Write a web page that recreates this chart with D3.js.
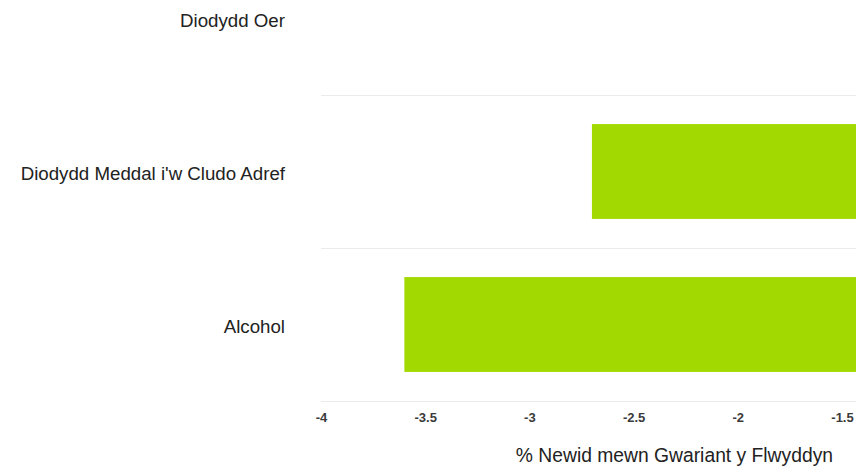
<!DOCTYPE html>
<html>
<head>
<meta charset="utf-8">
<script src="https://cdn.jsdelivr.net/npm/d3@7"></script>
<style>
  body { margin: 0; background: #fff; }
  svg { display: block; }
  svg text { font-family: "Liberation Sans", Arial, sans-serif; }
</style>
</head>
<body>
<div id="chart"></div>
<script>
const WIDTH = 856, HEIGHT = 466;
const MARGINS = {top: -58, bottom: 65, left: 321, right: 0};
const PLOT_W = WIDTH - MARGINS.left - MARGINS.right;
const PLOT_H = HEIGHT - MARGINS.top - MARGINS.bottom;

// data
const categories = ["Diodydd Oer", "Diodydd Meddal i'w Cludo Adref", "Alcohol"];
const values = [-0.8, -2.7, -3.6];
const ticks = [-4, -3.5, -3, -2.5, -2, -1.5];
const axisTitle = "% Newid mewn Gwariant y Flwyddyn";

const x = d3.scaleLinear()
    .domain([-4, -1.5])
    .range([0, 521]);

const y = d3.scaleBand()
    .domain(categories)
    .range([0, PLOT_H])
    .paddingInner(0.38)
    .paddingOuter(0.19);

const svg = d3.select('#chart')
    .append('svg')
    .attr('width', WIDTH)
    .attr('height', HEIGHT);

svg.append('defs').append('clipPath')
    .attr('id', 'plotClip')
    .append('rect')
    .attr('x', 0).attr('y', -MARGINS.top)
    .attr('width', PLOT_W).attr('height', PLOT_H);

const chart = svg.append('g')
    .attr('transform', `translate(${MARGINS.left}, ${MARGINS.top})`);

// grid lines between bands
const gap = (y.step() - y.bandwidth()) / 2;
chart.selectAll('.grid')
    .data(categories)
    .enter()
    .append('line')
    .attr('x1', 0)
    .attr('x2', PLOT_W)
    .attr('y1', d => Math.round(y(d) + y.bandwidth() + gap) + 0.5)
    .attr('y2', d => Math.round(y(d) + y.bandwidth() + gap) + 0.5)
    .attr('stroke', '#ebebeb')
    .attr('stroke-width', 1);

// bars grow from zero, which is off to the right
chart.append('g')
    .attr('clip-path', 'url(#plotClip)')
    .selectAll('.bar')
    .data(categories.map((c, i) => ({cat: c, value: values[i]})))
    .enter()
    .append('rect')
    .attr('x', d => x(Math.min(d.value, 0)))
    .attr('y', d => y(d.cat))
    .attr('width', d => Math.abs(x(d.value) - x(0)))
    .attr('height', y.bandwidth())
    .attr('fill', '#a2d900');

// category labels
chart.selectAll('.catLabel')
    .data(categories)
    .enter()
    .append('text')
    .attr('x', -36)
    .attr('y', d => y(d) + y.bandwidth() / 2 + 2)
    .attr('dy', '0.35em')
    .attr('text-anchor', 'end')
    .style('font-size', '18.7px')
    .style('fill', '#222')
    .text(d => d);

// x axis
const bottomAxis = d3.axisBottom(x)
    .tickValues(ticks)
    .tickFormat(d => String(d))
    .tickSize(0)
    .tickPadding(12);

const axisG = chart.append('g')
    .attr('transform', `translate(0, ${PLOT_H})`)
    .call(bottomAxis);
axisG.attr('font-family', null).attr('font-size', null);
axisG.select('.domain').remove();
axisG.selectAll('text')
    .style('font-size', '13px')
    .style('font-weight', 'bold')
    .style('fill', '#3a3a3a');

// axis title
svg.append('text')
    .attr('x', 833)
    .attr('y', 462)
    .attr('text-anchor', 'end')
    .style('font-size', '19.3px')
    .style('fill', '#222')
    .text(axisTitle);
</script>
</body>
</html>
